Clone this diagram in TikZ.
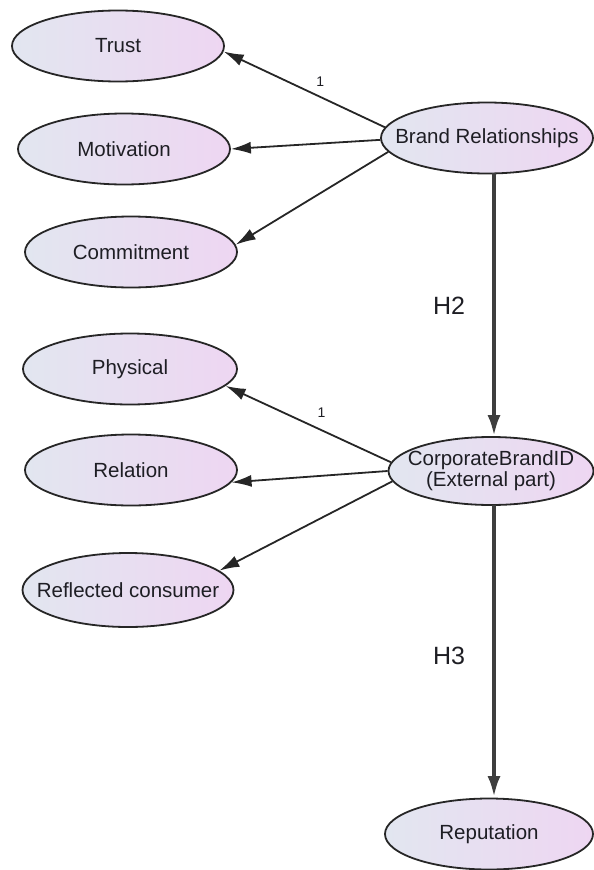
\documentclass[tikz,border=0pt]{standalone}
\usepackage{fontspec}
\setmainfont{Liberation Sans}
\usetikzlibrary{shapes.geometric,arrows.meta}
\definecolor{fillL}{HTML}{E2E6F0}
\definecolor{fillR}{HTML}{EED6F2}
\definecolor{thick}{HTML}{3E3E3E}
\definecolor{ink}{HTML}{1E1E24}
\newcommand{\zw}[1]{\makebox[0pt][c]{#1}}
\tikzset{
  lat/.style={ellipse, draw=black!85, line width=1.8pt, left color=fillL, right color=fillR,
    minimum width=#1, minimum height=71pt, inner sep=0pt, text=ink,
    font=\fontsize{20.5}{23}\selectfont},
  lat/.default=212pt,
  load/.style={draw=black!85, line width=1.8pt, -{Latex[length=20pt,width=12pt]}},
  path/.style={draw=thick, line width=4.5pt, -{Latex[length=22pt,width=13pt]}},
  hyp/.style={font=\fontsize{25}{28}\selectfont, text=ink},
  one/.style={font=\fontsize{14}{16}\selectfont, text=ink}
}
\begin{document}
\begin{tikzpicture}[x=1pt,y=-1pt]
\useasboundingbox (0,0) rectangle (594,870);
\node[lat] (trust) at (118,46) {\zw{Trust}};
\node[lat] (motiv) at (124,149) {\zw{Motivation}};
\node[lat] (commit) at (131,252) {\zw{Commitment}};
\node[lat] (br) at (487,138) {\zw{Brand Relationships}};
\node[lat=214pt] (phys) at (130,369) {\zw{Physical}};
\node[lat] (rel) at (131,470) {\zw{Relation}};
\node[lat=211pt, minimum height=74pt] (refl) at (128,590) {\zw{Reflected consumer}};
\node[lat=205pt, minimum height=68pt] (cbid) at (491,471)
  {\zw{\begin{tabular}{@{}c@{}}CorporateBrandID\\[-2pt](External part)\end{tabular}}};
\node[lat=208pt] (rep) at (489,834) {\zw{Reputation}};

\draw[load] (br.174) -- node[one, pos=0.4, above=6pt] (l1) {1} (trust.-3);
\draw[load] (br.181) -- (motiv.east);
\draw[load] (br.188) -- (commit.4);
\draw[load] (cbid.175) -- node[one, pos=0.42, above=8pt] (l2) {1} (phys.-10);
\draw[load] (cbid.180) -- (rel.-7);
\draw[load] (cbid.186) -- (refl.12);

\coordinate (brb) at (494,173);
\coordinate (cbt) at (494,437);
\coordinate (cbb) at (494,505);
\coordinate (rept) at (494,798);
\draw[path] (brb) -- (cbt);
\draw[path] (cbb) -- (rept);
\node[hyp] (h2) at (449,306) {H2};
\node[hyp] (h3) at (449,656) {H3};
\end{tikzpicture}
\end{document}
